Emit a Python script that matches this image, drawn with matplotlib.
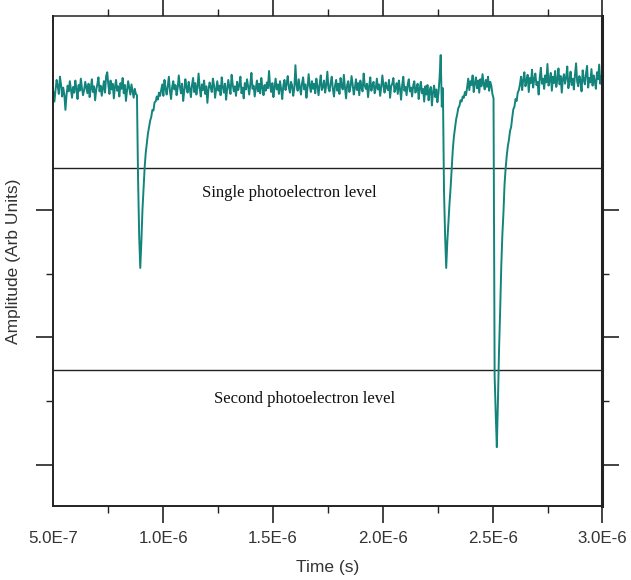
"""PMT trace with single / second photoelectron threshold levels."""

import matplotlib

matplotlib.use("Agg")
import matplotlib.pyplot as plt
import numpy as np
from matplotlib.ticker import FixedLocator

baseline_left = [
    -1.5, -3.0, -1.2, 0.4, -0.6, -1.8, 0.9, -0.3, -2.2, -0.8, -1.9, -4.3, -2.0, -0.5, -1.4, 0.2, -1.1, -2.4, -0.7, -1.6,
    0.3, -1.0, -2.6, -0.4, -1.3, 0.6, -0.9, -2.0, -1.2, 0.1, -0.8, -1.7, -0.2, -2.3, -1.0, 0.5, -1.5, -0.6, -2.8, -1.1,
    -0.3, 0.8, -1.4, -0.5, -2.1, -0.9, 0.2, -1.6, 1.0, 1.6, -0.4, -1.8, 0.3, -1.1, -0.2, -2.5, -0.7, 0.4, -1.3, -0.6,
    -2.2, -0.1, -1.0, 0.7, -1.7, -0.4, -2.9, -1.2, 0.2, -0.8, -1.9, -0.3, -1.4, -2.4, -1.0, -1.8,
]
pulse_1 = [
    -2.0, -15.0, -24.0, -29.1, -25.0, -20.0, -16.5, -13.3, -11.0, -9.5, -8.0,
    -7.0, -6.0, -5.4, -4.3, -4.4, -3.1, -3.0, -2.2, -2.7, -1.6, -2.1,
]
baseline_mid = [
    -1.2, -0.3, -2.1, 0.4, -1.0, -1.9, -0.5, 0.9, -1.4, -2.6, -0.7, 0.2, -1.1, -0.4,
    -2.0, -0.9, 1.1, -0.6, -1.7, -0.2, -2.9, -1.3, 0.5, -0.8, -1.6, 0.1, -1.0, -2.3,
    -0.4, 0.7, -1.5, -0.1, -1.9, -0.7, 1.4, -0.9, -2.2, -0.3, -1.2, 0.3, -1.8, -0.6,
    -3.2, -1.1, 0.0, -0.8, -1.5, 0.6, -0.4, -2.4, -1.0, 0.2, -1.3, -0.5, -2.0, 0.8,
    -0.7, -1.6, -0.2, -2.7, -1.0, 0.4, -0.9, -1.8, 1.2, -0.3, -1.4, -0.6, -2.1, 0.1,
    -1.2, -0.4, 0.9, -1.7, -0.8, -2.5, -0.1, -1.1, 0.5, -0.6, -1.9, -0.3, 1.5, -1.0,
    -0.5, -2.2, -0.9, 0.3, -1.4, -0.2, -1.7, 0.7, -0.8, -2.0, -0.4, -1.3, 0.0, -0.9,
    1.8, -0.6, -1.5, -0.1, -2.3, -0.7, 0.6, -1.1, -0.3, -1.8, 0.2, -1.0, -2.6, -0.5,
    0.4, -1.2, -0.2, 1.0, -0.8, -1.6, 0.1, -0.5, -2.1, -0.9, 2.7, -0.4, -1.3, 0.5,
    -0.7, -1.9, -0.1, 0.8, -1.1, -0.3, -2.4, -0.8, 1.3, -0.5, -1.5, 0.2, -1.0, -0.2,
    -1.7, 0.6, -0.6, -2.0, -0.3, 1.1, -1.2, -0.7, 0.3, -1.6, -0.4, 1.7, -0.9, -1.4,
    -0.1, 0.9, -1.0, -2.2, -0.5, 0.4, -1.3, -0.2, -1.8, 0.7, -0.6, -1.1, 1.2, -0.8,
    -2.5, -0.4, 0.2, -1.5, -0.7, 1.0, -0.3, -1.9, -0.9, 0.5, -1.2, -0.1, -2.0, 0.3,
    -0.8, -1.4, 1.4, -0.5, -1.0, -0.2, -2.3, -0.6, 0.8, -1.3, -0.4, 0.1, -1.7, -0.9,
    0.6, -1.1, -0.3, -2.1, -0.7, 1.1, -0.5, -1.6, 0.0, -0.8, -1.2, 0.4, -2.4, -0.6,
    -0.2, 0.7, -1.5, -0.9, -0.1, -1.8, 0.3, -1.0, -2.7, -0.4, 0.9, -1.3, -0.7, -2.0,
    -0.3, 0.5, -1.4, -0.8, -2.2, -0.5, 0.2, -1.6, -1.1, -0.2, -2.6, -0.9, 0.1, -1.7,
    -1.0, -3.0, -0.6, -1.9, -0.4, -2.8, -1.2, -0.7, -3.6, -1.5, -0.5, -2.3, -1.1, -3.1,
]
pulse_2 = [
    -1.6, 0.8, 4.3, -3.8, -0.9, -17.0, -24.0, -29.1, -25.0, -22.0, -19.0, -16.5, -13.5,
    -10.5, -8.5, -7.2, -5.8, -5.0, -4.0, -3.7, -2.8, -3.0, -2.2, -2.4, -1.5, -2.0,
]
baseline_gap = [
    -0.8, 0.6, -1.2, 0.2, -0.4, 1.1, -1.5, -0.1, 0.8, -0.9, 0.3, -1.6,
    0.5, -0.6, 1.3, -0.2, -1.1, 0.4, -0.7, 0.9, -1.3, 0.1, -0.5, -1.8,
]
pulse_3 = [
    -2.5, -46.0, -52.0, -57.2, -50.0, -42.0, -36.0, -29.0, -24.0, -20.5, -16.0, -13.5,
    -11.5, -10.0, -9.0, -7.6, -7.0, -5.5, -4.2, -3.8, -2.6, -2.9, -1.6, -1.2,
]
baseline_right = [
    -0.3, 0.9, -1.2, 0.4, 1.6, -0.6, 0.2, 1.2, -1.5, 0.7, -0.1, 2.0, -0.8, 0.5, 1.4, -0.4, 0.1, -1.9, 0.8,
    2.3, -0.2, 0.6, -1.0, 1.1, 0.0, 2.9, -0.5, 0.3, 1.5, -1.3, 0.9, -0.1, 1.8, -0.7, 0.4, 2.2, -0.3, 1.0,
    -1.6, 0.5, 1.3, -0.2, 0.8, 2.5, -0.9, 0.2, 1.7, -0.4, 0.6, -1.1, 1.2, 3.0, 0.1, -0.6, 1.0, 0.3, -1.4,
    1.9, 0.4, -0.3, 1.4, 2.6, -0.8, 0.7, 0.0, 2.1, -0.5, 1.1, 0.2, -1.0, 1.6, 0.5, 2.8, -0.2, 0.9, 1.3,
]

t_start, t_end = 5.0e-7, 3.0e-6

# threshold levels (arb. units)
single_pe_level = -13.4
second_pe_level = -45.1

x_ticks = [5.0e-7, 1.0e-6, 1.5e-6, 2.0e-6, 2.5e-6, 3.0e-6]
x_tick_labels = ["5.0E-7", "1.0E-6", "1.5E-6", "2.0E-6", "2.5E-6", "3.0E-6"]
x_minor_ticks = [7.5e-7, 1.25e-6, 1.75e-6, 2.25e-6, 2.75e-6]
y_ticks = [-20, -40, -60]
y_minor_ticks = [-30, -50]

TRACE = "#13847c"
INK = "#222222"

amplitude = np.array(
    baseline_left + pulse_1 + baseline_mid + pulse_2 + baseline_gap + pulse_3 + baseline_right
)
time = np.linspace(t_start, t_end, len(amplitude))

plt.rcParams["font.family"] = ["Liberation Sans", "DejaVu Sans"]

fig = plt.figure(figsize=(6.31, 5.80), dpi=100)
ax = fig.add_axes([0.0845, 0.128, 0.8703, 0.8436])

ax.axhline(single_pe_level, color=INK, linewidth=1.0, zorder=1)
ax.axhline(second_pe_level, color=INK, linewidth=1.0, zorder=1)
ax.plot(time, amplitude, color=TRACE, linewidth=1.4, zorder=2)

serif = ["Liberation Serif", "DejaVu Serif"]
ax.text(1.1755e-6, -18.0, "Single photoelectron level", family=serif,
        fontsize=12, color="#111111", ha="left", va="baseline")
ax.text(1.233e-6, -50.3, "Second photoelectron level", family=serif,
        fontsize=12, color="#111111", ha="left", va="baseline")

ax.set_xlim(t_start, t_end)
ax.set_ylim(-66.4, 10.35)

ax.xaxis.set_major_locator(FixedLocator(x_ticks))
ax.xaxis.set_minor_locator(FixedLocator(x_minor_ticks))
ax.set_xticklabels(x_tick_labels)
ax.yaxis.set_major_locator(FixedLocator(y_ticks))
ax.yaxis.set_minor_locator(FixedLocator(y_minor_ticks))
ax.set_yticklabels([])

ax.tick_params(which="both", direction="out", color=INK, top=True, right=True)
ax.tick_params(which="major", length=12, width=1.2, labelsize=12.2, labelcolor="#333333", pad=6)
ax.tick_params(which="minor", length=5, width=1.0)
# no tick mark at the left corner
ax.xaxis.get_major_ticks()[0].tick1line.set_visible(False)
ax.xaxis.get_major_ticks()[0].tick2line.set_visible(False)

for side, lw in (("left", 1.4), ("bottom", 1.4), ("top", 1.1), ("right", 2.2)):
    ax.spines[side].set_color(INK)
    ax.spines[side].set_linewidth(lw)

ax.set_xlabel("Time (s)", fontsize=12.5, color="#333333", labelpad=10)
ax.set_ylabel("Amplitude (Arb Units)", fontsize=12.5, color="#333333")
# y label sits just left of the tick marks (no y tick labels)
ax.yaxis.set_label_coords(-0.058, 0.5)

fig.savefig("out.png", dpi=100)
